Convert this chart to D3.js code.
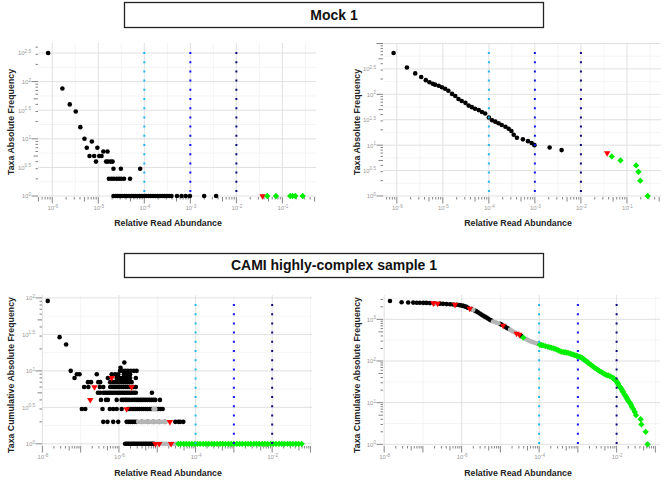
<!DOCTYPE html>
<html>
<head>
<meta charset="utf-8">
<script src="https://cdn.jsdelivr.net/npm/d3@7"></script>
<style>
  body { margin: 0; background: #fff; }
  text { font-family: "Liberation Sans", Arial, Helvetica, sans-serif; }
</style>
</head>
<body>
<div id="chart"></div>
<script>
// Data: first value = log10(relative read abundance), second = taxa frequency
// ==============================
var mockLeftBlack = [
  [-6.09, 316], [-5.78, 76], [-5.62, 40], [-5.49, 30], [-5.39, 16], [-5.30, 10], [-5.25, 7],
  [-5.19, 5], [-5.14, 9], [-5.09, 5], [-5.05, 4], [-5.02, 7], [-4.98, 5], [-4.93, 5], [-4.89, 6],
  [-4.83, 4], [-4.80, 6], [-4.79, 4], [-4.73, 4], [-4.69, 4], [-4.67, 3], [-4.51, 3], [-4.09, 3],
  [-4.77, 2], [-4.71, 2], [-4.66, 2], [-4.60, 2], [-4.55, 2], [-4.50, 2], [-4.44, 2], [-4.31, 2],
  [-4.67, 1], [-4.62, 1], [-4.58, 1], [-4.53, 1], [-4.48, 1], [-4.43, 1], [-4.38, 1], [-4.33, 1],
  [-4.28, 1], [-4.24, 1], [-4.19, 1], [-4.14, 1], [-4.10, 1], [-4.05, 1], [-4.00, 1], [-3.96, 1],
  [-3.91, 1], [-3.86, 1], [-3.81, 1], [-3.76, 1], [-3.71, 1], [-3.66, 1], [-3.61, 1], [-3.56, 1],
  [-3.51, 1], [-3.46, 1], [-3.41, 1], [-3.29, 1], [-3.19, 1], [-3.10, 1], [-3.01, 1], [-2.70, 1],
  [-2.44, 1]
];
var mockLeftRed = [[-1.43, 1]];
var mockLeftGreen = [[-1.33, 1], [-1.14, 1], [-0.83, 1], [-0.78, 1], [-0.72, 1], [-0.56, 1]];

var mockRightBlack = [
  [-6.07, 650], [-5.78, 337], [-5.60, 258], [-5.47, 219], [-5.37, 190], [-5.29, 173], [-5.22, 162],
  [-5.17, 155], [-5.09, 148], [-5.02, 138], [-4.95, 129], [-4.88, 118], [-4.80, 102], [-4.73, 93],
  [-4.66, 81], [-4.59, 74], [-4.51, 68], [-4.44, 60], [-4.37, 56], [-4.30, 52], [-4.22, 49],
  [-4.15, 45], [-4.08, 42], [-4.00, 35], [-3.93, 31], [-3.86, 29], [-3.79, 27], [-3.72, 25],
  [-3.64, 23], [-3.57, 21], [-3.51, 19], [-3.46, 16], [-3.39, 14], [-3.26, 13], [-3.15, 12],
  [-3.07, 11], [-3.01, 10], [-2.68, 9], [-2.42, 8]
];
var mockRightRed = [[-1.43, 7]];
var mockRightGreen = [[-1.33, 6], [-1.14, 5], [-0.80, 4], [-0.75, 3], [-0.71, 2], [-0.55, 1]];

// CAMI left panel, grouped by frequency row: [frequency, [log10 abundances]]
var camiLeftBlackRows = [
  [1, [-5.84, -5.80, -5.76, -5.72, -5.68, -5.64, -5.60, -5.56, -5.52, -5.48, -5.44, -5.40, -5.36,
       -5.32, -5.28, -5.24, -5.20, -5.16, -5.12, -5.08]],
  [2, [-6.41, -6.30, -6.15, -6.02, -5.80, -5.75, -5.70, -5.65, -5.60, -5.55, -5.40, -5.25, -5.10,
       -4.95, -4.80, -4.53, -4.45, -4.40, -4.32]],
  [3, [-6.97, -6.88, -6.43, -6.24, -6.15, -6.06, -5.93, -5.76, -5.71, -5.66, -5.61, -5.56, -5.51,
       -5.46, -5.41, -5.36, -5.31, -5.26, -5.21, -5.16, -5.11, -5.06, -5.01, -4.96, -4.91, -4.86]],
  [4, [-6.47, -6.34, -6.29, -6.06, -5.93, -5.88, -5.83, -5.78, -5.73, -5.66, -5.60, -5.55, -5.50,
       -5.45, -5.40, -5.35, -5.30, -5.25, -5.20, -5.15, -5.10, -5.05, -4.93]],
  [5, [-6.55, -6.49, -6.41, -6.36, -6.31, -6.26, -6.21, -6.16, -6.11, -6.06, -6.01, -5.96, -5.91,
       -5.86, -5.81, -5.76, -5.71, -5.66, -5.61, -5.56, -5.14]],
  [6, [-6.91, -6.80, -6.50, -6.41, -6.23, -6.18, -6.13, -6.08, -6.03, -5.98, -5.93, -5.88, -5.83,
       -5.78, -5.73, -5.62, -5.56]],
  [7, [-6.81, -6.73, -6.54, -6.49, -6.23, -6.18, -6.13, -6.08, -6.03, -5.98, -5.93, -5.88, -5.83,
       -5.78, -5.73, -5.67]],
  [8, [-7.16, -6.29, -6.06, -6.01, -5.96, -5.91, -5.86, -5.81, -5.76, -5.71, -5.56]],
  [9, [-7.10, -7.03, -6.58, -6.19, -6.10, -6.02, -5.87, -5.78, -5.71]],
  [10, [-7.26, -5.97, -5.91, -5.84, -5.77, -5.69, -5.61, -5.54]],
  [11, [-5.96]],
  [13, [-5.86]],
  [23, [-7.38]],
  [29, [-7.55]],
  [91, [-7.86]]
];
var camiLeftGrayRows = [
  [1, [-5.00, -4.94, -4.88, -4.82, -4.76, -4.70, -4.64, -4.58, -4.52]],
  [2, [-5.50, -5.44, -5.38, -5.32, -5.26, -5.20, -5.14, -5.08, -5.02, -4.96, -4.90, -4.84, -4.78]],
  [3, [-5.10, -5.05]]
];
var camiLeftRedRows = [
  [1, [-5.05, -4.95, -4.64]],
  [2, [-4.67]],
  [3, [-5.80]],
  [4, [-6.75]],
  [6, [-6.64, -5.67]],
  [8, [-6.19]]
];
var camiLeftGreenRows = [
  [1, [-4.45, -4.39, -4.31, -4.24, -4.17, -4.10, -4.02, -3.95, -3.88, -3.80, -3.73, -3.66, -3.58,
       -3.51, -3.44, -3.36, -3.29, -3.22, -3.14, -3.07, -3.00, -2.92, -2.85, -2.78, -2.70, -2.63,
       -2.56, -2.48, -2.41, -2.34, -2.26, -2.19, -2.12, -2.04, -1.97, -1.90, -1.82, -1.75, -1.68,
       -1.60, -1.53, -1.46, -1.38, -1.31, -1.23]]
];

var camiRightBlack = [
  [-7.85, 2750], [-7.55, 2570], [-7.38, 2530], [-7.25, 2520], [-7.16, 2510], [-7.08, 2500],
  [-6.99, 2490], [-6.91, 2480], [-6.82, 2450], [-6.70, 2430], [-6.56, 2380], [-6.48, 2350],
  [-6.39, 2320], [-6.30, 2300], [-6.22, 2270], [-6.13, 2240], [-6.05, 2190], [-6.00, 2150],
  [-5.96, 2100], [-5.92, 2050], [-5.88, 1990], [-5.84, 1900], [-5.75, 1760], [-5.66, 1620],
  [-5.62, 1550], [-5.58, 1470], [-5.53, 1380], [-5.49, 1300], [-5.45, 1230], [-5.40, 1160],
  [-5.36, 1100], [-5.32, 1040], [-5.27, 980], [-5.23, 935], [-5.01, 780], [-4.97, 745],
  [-4.88, 670], [-4.84, 630], [-4.80, 600], [-4.46, 395]
];
var camiRightGray = [
  [-6.66, 2410], [-5.70, 1700], [-5.19, 890], [-5.14, 860], [-5.10, 830], [-5.05, 805],
  [-4.75, 565], [-4.71, 535], [-4.67, 505], [-4.62, 480], [-4.36, 345], [-4.32, 330],
  [-4.28, 315], [-4.24, 300], [-4.20, 292], [-4.15, 283], [-4.11, 274], [-4.07, 265], [-4.03, 255]
];
var camiRightRed = [
  [-6.73, 2440], [-6.62, 2400], [-6.17, 2250], [-5.79, 1820], [-4.93, 710], [-4.58, 455], [-4.51, 430]
];
var camiRightGreen = [
  [-4.41, 365], [-3.98, 245], [-3.94, 241], [-3.90, 238], [-3.84, 228], [-3.77, 219], [-3.72, 213],
  [-3.68, 207], [-3.63, 201], [-3.59, 195], [-3.54, 187], [-3.50, 180], [-3.46, 172], [-3.42, 166],
  [-3.37, 164], [-3.33, 162], [-3.29, 159], [-3.25, 156], [-3.20, 151], [-3.16, 146], [-3.12, 142],
  [-3.08, 138], [-3.04, 134], [-3.01, 130], [-2.95, 126], [-2.91, 120], [-2.88, 115], [-2.85, 110],
  [-2.82, 105], [-2.78, 98], [-2.74, 92], [-2.70, 85], [-2.65, 79], [-2.61, 74], [-2.57, 69],
  [-2.52, 65], [-2.48, 61], [-2.44, 57], [-2.39, 54], [-2.35, 51], [-2.30, 48], [-2.26, 46],
  [-2.22, 45], [-2.17, 43], [-2.13, 41], [-2.09, 39], [-2.06, 37], [-2.03, 35], [-2.00, 32],
  [-1.98, 30], [-1.96, 28], [-1.94, 26], [-1.92, 24], [-1.90, 23], [-1.87, 21], [-1.85, 19],
  [-1.83, 18], [-1.80, 16], [-1.78, 15], [-1.76, 14], [-1.74, 13], [-1.72, 12], [-1.70, 11],
  [-1.66, 10], [-1.63, 9], [-1.61, 8], [-1.57, 7], [-1.53, 6], [-1.50, 5], [-1.38, 4],
  [-1.36, 3], [-1.25, 2], [-1.20, 1]
];

// tick exponents
var mockXTicks = [-6, -5, -4, -3, -2, -1];
var mockYTicks = [0, 0.5, 1, 1.5, 2, 2.5];
var camiXTicks = [-8, -6, -4, -2];
var camiLeftYTicks = [0, 0.5, 1, 1.5, 2];
var camiRightYTicks = [0, 1, 2, 3];

// abundance cut-offs (dotted lines)
var cutoffs = [-4, -3, -2];
var cutoffColors = ["#22b8f0", "#1414f0", "#0c0c7a"];

var sampleTitles = ["Mock 1", "CAMI highly-complex sample  1"];

function flattenRows(rows) {
  var out = [];
  rows.forEach(function(r) {
    r[1].forEach(function(e) { out.push([e, r[0]]); });
  });
  return out;
}

var svg = d3.select("#chart")
  .append("svg")
  .attr("width", 669)
  .attr("height", 483)
  .style("background", "#fff");

// Title boxes
// ==============================
var boxes = [{y: 2, h: 25}, {y: 253, h: 24}];
boxes.forEach(function(b, i) {
  svg.append("rect")
    .attr("x", 124.5).attr("y", b.y + 0.5)
    .attr("width", 419).attr("height", b.h)
    .attr("fill", "#fff")
    .attr("stroke", "#222")
    .attr("stroke-width", 1.3);
  svg.append("text")
    .attr("x", 334).attr("y", b.y + b.h / 2 + 5)
    .attr("text-anchor", "middle")
    .attr("font-size", "14px")
    .attr("font-weight", "bold")
    .attr("fill", "#111")
    .text(sampleTitles[i]);
});

var panels = [
  {left: 38, right: 316, top: 43, bottom: 197, xDom: [-6.31, -0.27], yDom: [-0.017, 2.675],
   xTicks: mockXTicks, yTicks: mockYTicks, yTitle: "Taxa Absolute Frequency",
   yTitleX: 13.5, yTitleY: 122, xTitleX: 168, xTitleY: 226,
   black: mockLeftBlack, gray: [], red: mockLeftRed, green: mockLeftGreen},
  {left: 383, right: 661, top: 43, bottom: 197, xDom: [-6.30, -0.26], yDom: [-0.02, 3.01],
   xTicks: mockXTicks, yTicks: mockYTicks, yTitle: "Taxa Absolute Frequency",
   yTitleX: 360, yTitleY: 122, xTitleX: 518, xTitleY: 226,
   black: mockRightBlack, gray: [], red: mockRightRed, green: mockRightGreen},
  {left: 42, right: 312, top: 295, bottom: 446, xDom: [-8.01, -0.96], yDom: [-0.03, 2.04],
   xTicks: camiXTicks, yTicks: camiLeftYTicks, yTitle: "Taxa Cumulative Absolute Frequency",
   yTitleX: 13.5, yTitleY: 375, xTitleX: 168, xTitleY: 476,
   black: flattenRows(camiLeftBlackRows), gray: flattenRows(camiLeftGrayRows),
   red: flattenRows(camiLeftRedRows), green: flattenRows(camiLeftGreenRows)},
  {left: 383, right: 660, top: 295, bottom: 446, xDom: [-8.03, -0.88], yDom: [-0.04, 3.584],
   xTicks: camiXTicks, yTicks: camiRightYTicks, yTitle: "Taxa Cumulative Absolute Frequency",
   yTitleX: 360, yTitleY: 375, xTitleX: 518, xTitleY: 476,
   black: camiRightBlack, gray: camiRightGray, red: camiRightRed, green: camiRightGreen}
];

function gridExps(ticks, dom) {
  var step = ticks[1] - ticks[0];
  var major = [], minor = [];
  for (var e = ticks[0] - 4 * step; e <= dom[1] + 1e-9; e += step) {
    if (e >= dom[0] - 1e-9) major.push(e);
    var m = e + step / 2;
    if (m >= dom[0] && m <= dom[1]) minor.push(m);
  }
  return {major: major, minor: minor};
}

function logTickValues(dom) {
  var vals = [];
  for (var k = Math.floor(dom[0]); k <= Math.ceil(dom[1]); k++) {
    for (var m = 1; m <= 9; m++) {
      var l = Math.log10(m * Math.pow(10, k));
      if (l >= dom[0] && l <= dom[1]) vals.push({v: m * Math.pow(10, k), m: m});
    }
  }
  return vals;
}

function tickLen(m) { return m === 1 ? 6.5 : (m === 5 ? 4.5 : 2.5); }

function expLabel(sel) {
  sel.each(function(d) {
    var e = Math.round(Math.log10(d) * 10) / 10;
    var t = d3.select(this);
    t.text("10");
    t.append("tspan").attr("dy", "-0.55em").attr("font-size", "4.6px").text(e);
  });
}

function drawPanel(p) {
  var x = d3.scaleLog()
    .domain([Math.pow(10, p.xDom[0]), Math.pow(10, p.xDom[1])])
    .range([p.left, p.right]);
  var y = d3.scaleLog()
    .domain([Math.pow(10, p.yDom[0]), Math.pow(10, p.yDom[1])])
    .range([p.bottom, p.top]);

  var g = svg.append("g");

  // grid lines
  var gx = gridExps(p.xTicks, p.xDom);
  var gy = gridExps(p.yTicks, p.yDom);
  gx.minor.forEach(function(e) {
    g.append("line").attr("x1", x(Math.pow(10, e))).attr("x2", x(Math.pow(10, e)))
      .attr("y1", p.top).attr("y2", p.bottom).attr("stroke", "#efefef").attr("stroke-width", 0.7);
  });
  gy.minor.forEach(function(e) {
    g.append("line").attr("y1", y(Math.pow(10, e))).attr("y2", y(Math.pow(10, e)))
      .attr("x1", p.left).attr("x2", p.right).attr("stroke", "#efefef").attr("stroke-width", 0.7);
  });
  gx.major.forEach(function(e) {
    g.append("line").attr("x1", x(Math.pow(10, e))).attr("x2", x(Math.pow(10, e)))
      .attr("y1", p.top).attr("y2", p.bottom).attr("stroke", "#dddddd").attr("stroke-width", 0.9);
  });
  gy.major.forEach(function(e) {
    g.append("line").attr("y1", y(Math.pow(10, e))).attr("y2", y(Math.pow(10, e)))
      .attr("x1", p.left).attr("x2", p.right).attr("stroke", "#dddddd").attr("stroke-width", 0.9);
  });

  // log ticks on left and bottom
  g.selectAll(null).data(logTickValues(p.xDom)).enter().append("line")
    .attr("x1", function(d) { return x(d.v); }).attr("x2", function(d) { return x(d.v); })
    .attr("y1", p.bottom).attr("y2", function(d) { return p.bottom + tickLen(d.m); })
    .attr("stroke", "#333").attr("stroke-width", 0.6);
  g.selectAll(null).data(logTickValues(p.yDom)).enter().append("line")
    .attr("y1", function(d) { return y(d.v); }).attr("y2", function(d) { return y(d.v); })
    .attr("x1", p.left).attr("x2", function(d) { return p.left - tickLen(d.m); })
    .attr("stroke", "#333").attr("stroke-width", 0.6);

  // axes labels via d3 axes
  var xAxis = g.append("g")
    .attr("transform", "translate(0," + p.bottom + ")")
    .call(d3.axisBottom(x).tickValues(p.xTicks.map(function(e) { return Math.pow(10, e); }))
      .tickSize(0).tickPadding(9));
  xAxis.select(".domain").remove();
  xAxis.selectAll("text").attr("font-size", "6px").attr("fill", "#9a9a9a").call(expLabel);

  var yAxis = g.append("g")
    .attr("transform", "translate(" + p.left + ",0)")
    .call(d3.axisLeft(y).tickValues(p.yTicks.map(function(e) { return Math.pow(10, e); }))
      .tickSize(0).tickPadding(7));
  yAxis.select(".domain").remove();
  yAxis.selectAll("text").attr("font-size", "6px").attr("fill", "#9a9a9a").call(expLabel);

  // points
  g.selectAll(null).data(p.black).enter().append("circle")
    .attr("cx", function(d) { return x(Math.pow(10, d[0])); })
    .attr("cy", function(d) { return y(d[1]); })
    .attr("r", 2.3).attr("fill", "#000");
  g.selectAll(null).data(p.gray).enter().append("circle")
    .attr("cx", function(d) { return x(Math.pow(10, d[0])); })
    .attr("cy", function(d) { return y(d[1]); })
    .attr("r", 2.3).attr("fill", "#b5b5b5");
  g.selectAll(null).data(p.red).enter().append("path")
    .attr("d", d3.symbol(d3.symbolTriangle, 18))
    .attr("transform", function(d) {
      return "translate(" + x(Math.pow(10, d[0])) + "," + y(d[1]) + ") rotate(180)";
    })
    .attr("fill", "#ff0000");
  g.selectAll(null).data(p.green).enter().append("path")
    .attr("d", d3.symbol(d3.symbolSquare, 20))
    .attr("transform", function(d) {
      return "translate(" + x(Math.pow(10, d[0])) + "," + y(d[1]) + ") rotate(45)";
    })
    .attr("fill", "#00ee00");

  // dotted cut-off lines
  cutoffs.forEach(function(e, i) {
    g.append("line")
      .attr("x1", x(Math.pow(10, e))).attr("x2", x(Math.pow(10, e)))
      .attr("y1", p.top + 9).attr("y2", p.bottom)
      .attr("stroke", cutoffColors[i])
      .attr("stroke-width", 2)
      .attr("stroke-dasharray", "2 7.2");
  });

  // axis titles
  g.append("text")
    .attr("transform", "translate(" + p.yTitleX + "," + p.yTitleY + ") rotate(-90)")
    .attr("text-anchor", "middle")
    .attr("font-size", "8.8px")
    .attr("font-weight", "bold")
    .attr("fill", "#222")
    .text(p.yTitle);
  g.append("text")
    .attr("x", p.xTitleX).attr("y", p.xTitleY)
    .attr("text-anchor", "middle")
    .attr("font-size", "8.8px")
    .attr("font-weight", "bold")
    .attr("fill", "#222")
    .text("Relative Read Abundance");
}

panels.forEach(drawPanel);
</script>
</body>
</html>
